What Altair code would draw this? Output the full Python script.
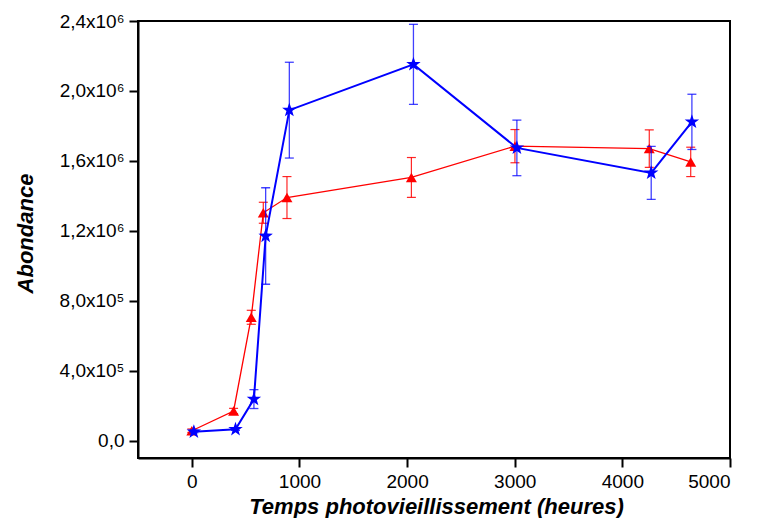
import altair as alt
import pandas as pd

# Red series (triangles)
hours_red = [0, 388, 552, 664, 884, 2040, 3002, 4250, 4635]
abund_red = [56000, 169000, 705000, 1303000, 1390000, 1505000, 1684000, 1670000, 1594000]
err_red = [10000, 15000, 40000, 60000, 120000, 114000, 95000, 107000, 84000]

# Blue series (stars)
hours_blue = [19, 406, 577, 686, 906, 2059, 3020, 4268, 4646]
abund_blue = [50000, 64000, 237000, 1170000, 1890000, 2152000, 1674000, 1531000, 1823000]
err_blue = [6000, 6000, 54000, 276000, 274000, 229000, 159000, 152000, 158000]

x_ticks = [0, 1000, 2000, 3000, 4000, 5000]
y_ticks = [0, 400000, 800000, 1200000, 1600000, 2000000, 2400000]
y_tick_labels = ["0,0", "4,0x10\u2075", "8,0x10\u2075", "1,2x10\u2076",
                 "1,6x10\u2076", "2,0x10\u2076", "2,4x10\u2076"]

STAR = ("M0,-1L0.235,-0.324L0.951,-0.309L0.380,0.124L0.588,0.809L0,0.4"
        "L-0.588,0.809L-0.380,0.124L-0.951,-0.309L-0.235,-0.324Z")

red = pd.DataFrame({"h": hours_red, "a": abund_red, "e": err_red})
red["lo"] = red["a"] - red["e"]
red["hi"] = red["a"] + red["e"]
blue = pd.DataFrame({"h": hours_blue, "a": abund_blue, "e": err_blue})
blue["lo"] = blue["a"] - blue["e"]
blue["hi"] = blue["a"] + blue["e"]

label_expr = "[" + ",".join("'" + s + "'" for s in y_tick_labels) + "][round(datum.value/400000)]"

xs = alt.Scale(domain=[-500, 5000], nice=False, zero=False)
ys = alt.Scale(domain=[-100000, 2400000], nice=False, zero=False)

X = alt.X("h:Q", scale=xs,
          axis=alt.Axis(values=x_ticks, format="d",
                        title="Temps photovieillissement (heures)",
                        titleX=298, titleY=55, titleBaseline="alphabetic",
                        titleAlign="center", labelPadding=5))
Y = alt.Y("a:Q", scale=ys,
          axis=alt.Axis(values=y_ticks, title="Abondance", labelExpr=label_expr,
                        titleX=-106, titleY=212, titleBaseline="alphabetic",
                        titleAlign="center", labelPadding=5))


def series(df, color, line_w, shape, size, err_w, err_opacity):
    base = alt.Chart(df)
    bars = base.mark_rule(color=color, strokeWidth=err_w, opacity=err_opacity).encode(
        x=alt.X("h:Q", scale=xs), y=alt.Y("lo:Q", scale=ys), y2="hi:Q")
    cap_lo = base.mark_tick(color=color, orient="horizontal", size=9,
                            thickness=err_w, opacity=err_opacity).encode(
        x=alt.X("h:Q", scale=xs), y=alt.Y("lo:Q", scale=ys))
    cap_hi = base.mark_tick(color=color, orient="horizontal", size=9,
                            thickness=err_w, opacity=err_opacity).encode(
        x=alt.X("h:Q", scale=xs), y=alt.Y("hi:Q", scale=ys))
    line = base.mark_line(color=color, strokeWidth=line_w).encode(x=X, y=Y)
    pts = base.mark_point(color=color, shape=shape, size=size, filled=True,
                          opacity=1).encode(x=X, y=Y)
    return [bars, cap_lo, cap_hi, line, pts]


layers = series(red, "#ff0000", 1.3, "triangle-up", 120, 1.2, 0.85) + \
         series(blue, "#0000ff", 2, STAR, 230, 1.3, 0.75)

chart = alt.layer(*layers).properties(
    width=592, height=437,
    autosize=alt.AutoSizeParams(type="none"),
    padding={"left": 130, "top": 13, "right": 19, "bottom": 60},
).configure_view(stroke="black", strokeWidth=2).configure_axis(
    grid=False,
    labelFont="Liberation Sans", labelFontSize=19, labelColor="black",
    titleFont="Liberation Sans", titleFontSize=22, titleFontWeight="bold",
    titleFontStyle="italic", titleColor="black",
    domainColor="black", domainWidth=2, tickColor="black", tickWidth=2,
    tickSize=9,
)

chart.save("out.html", embed_options={"renderer": "svg", "actions": False})
